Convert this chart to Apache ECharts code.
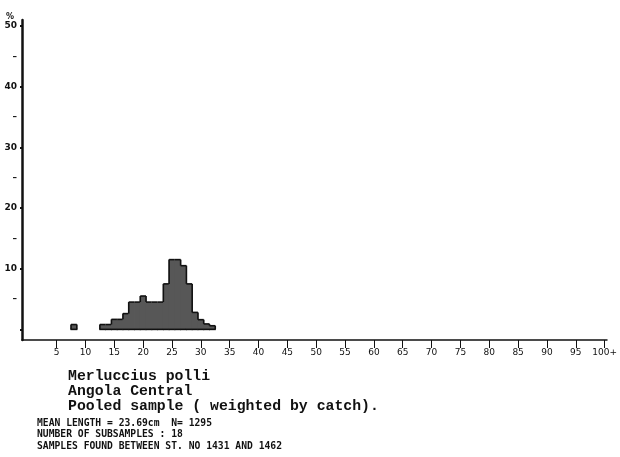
<!DOCTYPE html>
<html>
<head>
<meta charset="utf-8">
<script src="https://cdn.jsdelivr.net/npm/echarts@6/dist/echarts.min.js"></script>
<style>
  html, body { margin: 0; padding: 0; background: #fff; }
  #chart { width: 620px; height: 457px; }
</style>
</head>
<body>
<div id="chart"></div>
<script>
// Length-frequency of Merluccius polli, 1 cm classes (class centre, cm)
const lengthsCm = [8, 13, 14, 15, 16, 17, 18, 19, 20, 21, 22, 23, 24, 25, 26, 27, 28, 29, 30, 31, 32];
// Percentage of the pooled (catch-weighted) sample in each class
const percents  = [0.8, 0.8, 0.8, 1.65, 1.65, 2.6, 4.5, 4.5, 5.5, 4.5, 4.5, 4.5, 7.5, 11.5, 11.5, 10.5, 7.5, 2.8, 1.6, 0.9, 0.6];

// Axis ticks and labels
const xTickValues = [5, 10, 15, 20, 25, 30, 35, 40, 45, 50, 55, 60, 65, 70, 75, 80, 85, 90, 95, 100];
const yMajorValues = [0, 10, 20, 30, 40, 50];
const yLabelValues = [5, 10, 15, 20, 25, 30, 35, 40, 45, 50];

// Caption lines
const titleLines = ['Merluccius polli', 'Angola Central', 'Pooled sample ( weighted by catch).'];
const infoLines = [
  'MEAN LENGTH = 23.69cm  N= 1295',
  'NUMBER OF SUBSAMPLES : 18',
  'SAMPLES FOUND BETWEEN ST. NO 1431 AND 1462'
];

const chart = echarts.init(document.getElementById('chart'), null, { renderer: 'canvas' });

function heightAt(cm) {
  const k = lengthsCm.indexOf(cm);
  return k >= 0 ? percents[k] : 0;
}

const outline = { stroke: '#111', lineWidth: 1.6 };

// One histogram class: filled body plus the outer outline only
// (no dividing lines between neighbouring classes).
function renderBin(params, api) {
  const c = api.value(0);
  const h = api.value(1);
  const topLeft = api.coord([c - 0.5, h]);
  const botRight = api.coord([c + 0.5, 0]);
  const x0 = topLeft[0], x1 = botRight[0];
  const yTop = topLeft[1], yBase = botRight[1];
  const prevH = heightAt(c - 1);
  const nextH = heightAt(c + 1);
  const children = [
    { type: 'rect',
      shape: { x: x0 - 0.4, y: yTop, width: x1 - x0 + 0.8, height: yBase - yTop },
      style: { fill: '#575757', stroke: null, lineWidth: 0 } },
    { type: 'line', shape: { x1: x0, y1: yTop, x2: x1, y2: yTop }, style: outline },
    { type: 'line', shape: { x1: x0 - 0.5, y1: yBase, x2: x1 + 0.5, y2: yBase }, style: outline }
  ];
  if (h > prevH) {
    const yp = api.coord([c, prevH])[1];
    children.push({ type: 'line', shape: { x1: x0, y1: yp, x2: x0, y2: yTop }, style: outline });
  }
  if (h > nextH) {
    const yn = api.coord([c, nextH])[1];
    children.push({ type: 'line', shape: { x1: x1, y1: yn, x2: x1, y2: yTop }, style: outline });
  }
  return { type: 'group', children: children };
}

const captionGraphics = [];
titleLines.forEach(function (t, i) {
  captionGraphics.push({
    type: 'text', left: 68, top: 369 + i * 15,
    style: { text: t, fill: '#111', font: 'bold 14.8px "Liberation Mono", monospace' }
  });
});
infoLines.forEach(function (t, i) {
  captionGraphics.push({
    type: 'text', left: 37, top: 418 + i * 11.5,
    style: { text: t, fill: '#111', font: 'bold 9.7px "DejaVu Sans Mono", monospace' }
  });
});
captionGraphics.push({
  type: 'text', left: 6, top: 13,
  style: { text: '%', fill: '#111', font: 'bold 8px "DejaVu Sans", sans-serif' }
});

chart.setOption({
  animation: false,
  backgroundColor: '#fff',
  grid: { left: 22, right: 8, top: 20, bottom: 117, containLabel: false },
  xAxis: {
    type: 'value', min: -1, max: 100.4,
    axisLine: { show: true, onZero: false, lineStyle: { color: '#111', width: 1.6 } },
    axisTick: { show: true, customValues: xTickValues, length: 8, inside: false,
                lineStyle: { color: '#111', width: 1 } },
    axisLabel: {
      show: true, customValues: xTickValues, margin: 8,
      color: '#111', fontFamily: 'DejaVu Sans', fontSize: 9,
      formatter: function (v) { return v === 100 ? '100+' : String(v); }
    },
    splitLine: { show: false }
  },
  yAxis: {
    type: 'value', min: -1.75, max: 51,
    axisLine: { show: true, onZero: false, lineStyle: { color: '#111', width: 2.5 } },
    axisTick: { show: true, customValues: yMajorValues, length: 2,
                lineStyle: { color: '#111', width: 2 } },
    axisLabel: {
      show: true, customValues: yLabelValues, margin: 5,
      color: '#111', fontFamily: 'DejaVu Sans', fontSize: 9, fontWeight: 'bold',
      formatter: function (v) { return v % 10 === 0 ? String(v) : '–'; }
    },
    splitLine: { show: false }
  },
  series: [{
    type: 'custom',
    renderItem: renderBin,
    data: lengthsCm.map(function (c, i) { return [c, percents[i]]; }),
    encode: { x: 0, y: 1 },
    clip: false
  }],
  graphic: captionGraphics
});
</script>
</body>
</html>
